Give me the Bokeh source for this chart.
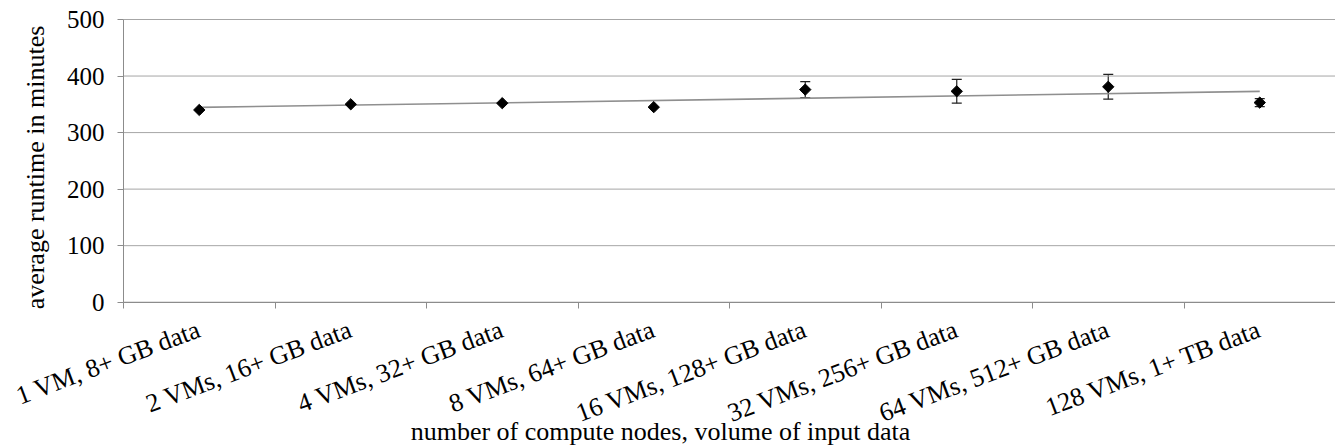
import numpy as np
from bokeh.plotting import figure
from bokeh.models import Range1d, FixedTicker, Whisker, ColumnDataSource, Label, TeeHead
from bokeh.embed import file_html
from bokeh.resources import INLINE

categories = ["1 VM, 8+ GB data", "2 VMs, 16+ GB data", "4 VMs, 32+ GB data",
              "8 VMs, 64+ GB data", "16 VMs, 128+ GB data", "32 VMs, 256+ GB data",
              "64 VMs, 512+ GB data", "128 VMs, 1+ TB data"]
runtime_mean = [340, 350, 352, 345, 376, 373, 381, 353]
runtime_err = [0, 0, 0, 0, 14, 21, 22, 7]
y_ticks = [0, 100, 200, 300, 400, 500]
x_title = "number of compute nodes, volume of input data"
y_title = "average runtime in minutes"

FONT = "Liberation Serif"
n = len(categories)
centers = [i + 0.5 for i in range(n)]
bounds = list(range(n + 1))

# layout (pixels): plot area from x=123 to 1335, value 500 at y=19, value 0 at y=301.7
W, H = 1335, 445
LEFT_PX, TOP_PX, ZERO_PX = 123, 19, 301.7
ppx = (W - LEFT_PX) / n                    # pixels per category
ppy = (ZERO_PX - TOP_PX) / y_ticks[-1]     # pixels per minute
def xd(px): return (px - LEFT_PX) / ppx
def yd(py): return (ZERO_PX - py) / ppy

p = figure(width=W, height=H, x_range=Range1d(xd(0), n), y_range=Range1d(yd(H), yd(0)),
           output_backend="svg", toolbar_location=None,
           min_border_left=0, min_border_right=0, min_border_top=0, min_border_bottom=0)
p.outline_line_color = None
p.background_fill_color = "white"
p.border_fill_color = "white"
p.grid.visible = False

# horizontal grid lines at the y ticks, across the category span
p.segment(x0=[bounds[0]] * len(y_ticks), x1=[bounds[-1]] * len(y_ticks), y0=y_ticks, y1=y_ticks,
          line_color="#a6a6a6", line_width=1)

# y axis
ya = p.yaxis[0]
ya.fixed_location = 0
ya.bounds = (y_ticks[0], y_ticks[-1])
ya.ticker = FixedTicker(ticks=y_ticks)
ya.axis_line_color = "#8c8c8c"
ya.major_tick_line_color = "#8c8c8c"
ya.major_tick_out = 6
ya.major_tick_in = 0
ya.minor_tick_line_color = None
ya.major_label_text_font = FONT
ya.major_label_text_font_size = "25px"
ya.major_label_text_color = "black"
ya.major_label_standoff = 13

# x axis at value 0: labels at category centres, ticks at category boundaries
xa = p.xaxis[0]
xa.fixed_location = 0
xa.bounds = (bounds[0], bounds[-1])
xa.ticker = FixedTicker(ticks=centers, minor_ticks=bounds)
xa.major_label_overrides = {c: lab for c, lab in zip(centers, categories)}
xa.axis_line_color = "#8c8c8c"
xa.major_tick_line_color = None
xa.major_tick_out = 0
xa.major_tick_in = 0
xa.minor_tick_line_color = "#8c8c8c"
xa.minor_tick_out = 6
xa.minor_tick_in = 0
xa.major_label_orientation = 0.36
xa.major_label_text_font = FONT
xa.major_label_text_font_size = "26px"
xa.major_label_text_color = "black"
xa.major_label_standoff = 20

# trend line (least squares fit of the means)
slope, icpt = np.polyfit(centers, runtime_mean, 1)
p.line([centers[0], centers[-1]], [icpt + slope * centers[0], icpt + slope * centers[-1]],
       line_color="#8f8f8f", line_width=1.6)

# error bars
eb = ColumnDataSource(dict(
    x=[c for c, e in zip(centers, runtime_err) if e > 0],
    upper=[m + e for m, e in zip(runtime_mean, runtime_err) if e > 0],
    lower=[m - e for m, e in zip(runtime_mean, runtime_err) if e > 0],
))
w = Whisker(base="x", upper="upper", lower="lower", dimension="height", source=eb,
            line_color="#222222", line_width=1.2,
            upper_head=TeeHead(size=10, line_color="#222222", line_width=1.2),
            lower_head=TeeHead(size=10, line_color="#222222", line_width=1.2))
p.add_layout(w)

p.scatter(centers, runtime_mean, marker="square", size=8, angle=np.pi / 4,
          fill_color="black", line_color="black")

# axis titles
p.add_layout(Label(x=xd(660), y=yd(431), text=x_title, text_align="center",
                   text_baseline="middle", text_font=FONT, text_font_size="26px",
                   text_color="black"))
p.add_layout(Label(x=xd(35), y=yd(167), text=y_title, angle=np.pi / 2, text_align="center",
                   text_baseline="middle", text_font=FONT, text_font_size="26px",
                   text_color="black"))

open("out.html", "w").write(file_html(p, INLINE))
